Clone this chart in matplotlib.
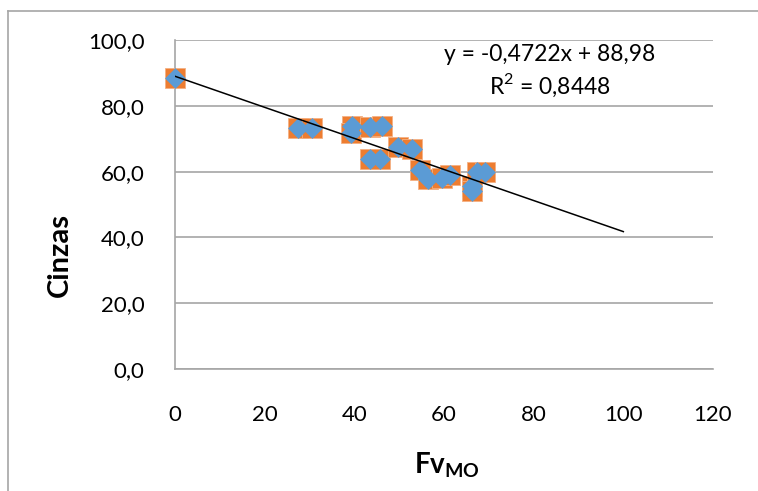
import matplotlib
matplotlib.use("Agg")
import matplotlib.pyplot as plt
from matplotlib.lines import Line2D
import numpy as np

# Fv_MO vs Cinzas measurements
fv_mo = [0.0, 27.5, 30.6, 39.5, 39.2, 43.5, 46.2, 43.5, 45.8, 49.8,
         52.9, 54.7, 56.5, 59.6, 61.4, 66.3, 66.3, 67.4, 69.2]
cinzas = [88.5, 73.3, 73.3, 74.0, 71.7, 73.5, 74.0, 63.8, 63.8, 67.5,
          67.0, 60.5, 57.8, 58.1, 59.0, 55.5, 54.2, 59.9, 59.9]

# Linear trendline coefficients
slope = -0.4722
intercept = 88.98
r_squared = 0.8448
trend_x = [0, 100]

x_ticks = [0, 20, 40, 60, 80, 100, 120]
y_ticks = [0, 20, 40, 60, 80, 100]

FONT = "Lato"
GRID = "#A6A6A6"
ORANGE = "#ED7D31"
BLUE = "#5B9BD5"

plt.rcParams["mathtext.fontset"] = "custom"
plt.rcParams["mathtext.rm"] = FONT
plt.rcParams["mathtext.bf"] = FONT + ":bold"

W, H = 758, 491
fig = plt.figure(figsize=(W / 100, H / 100), dpi=100)
ax = fig.add_axes([175 / W, 1 - 369 / H, (713 - 175) / W, (369 - 40) / H])

# chart frame (left and top edges)
fig.add_artist(Line2D([8 / W, 1.0], [1 - 11 / H, 1 - 11 / H], color=GRID,
                      lw=1.2, transform=fig.transFigure))
fig.add_artist(Line2D([8 / W, 8 / W], [1 - 11 / H, 0.0], color=GRID,
                      lw=1.2, transform=fig.transFigure))

ax.set_xlim(0, 120)
ax.set_ylim(0, 100)
ax.set_xticks(x_ticks)
ax.set_yticks(y_ticks)
ax.set_xticklabels([str(v) for v in x_ticks])
ax.set_yticklabels([f"{v:.1f}".replace(".", ",") for v in y_ticks])
ax.tick_params(length=0, labelsize=16, colors="black")
ax.tick_params(axis="y", pad=22)
ax.tick_params(axis="x", pad=26)
for lab in ax.get_xticklabels() + ax.get_yticklabels():
    lab.set_fontfamily(FONT)

ax.grid(axis="y", color=GRID, lw=1.2)
ax.set_axisbelow(True)
for side in ("top", "right"):
    ax.spines[side].set_visible(False)
for side in ("left", "bottom"):
    ax.spines[side].set_color(GRID)
    ax.spines[side].set_linewidth(1.2)

ax.plot(fv_mo, cinzas, linestyle="none", marker="s", markersize=14,
        markerfacecolor=ORANGE, markeredgecolor="#F4B183", markeredgewidth=0.6,
        zorder=3, clip_on=False)
ax.plot(fv_mo, cinzas, linestyle="none", marker="D", markersize=9.8,
        markerfacecolor=BLUE, markeredgecolor=BLUE, markeredgewidth=0.4,
        zorder=4, clip_on=False)

tx = np.array(trend_x, dtype=float)
ax.plot(tx, slope * tx + intercept, color="black", lw=1.1, zorder=5)

eq = (f"y = {slope:.4f}x + {intercept:.2f}".replace(".", ",")
      + "\n" + "R$^{2}$ = " + f"{r_squared:.4f}".replace(".", ","))
ax.text(0.697, 0.903, eq, transform=ax.transAxes, ha="center", va="center",
        fontsize=16.5, fontfamily=FONT, linespacing=1.3)

ax.set_xlabel(r"Fv$_{\mathbf{MO}}$", fontsize=20, fontweight="bold",
              fontfamily=FONT)
ax.xaxis.set_label_coords(0.5056, -0.292)
ax.xaxis.label.set_va("center")
ax.set_ylabel("Cinzas", fontsize=21, fontweight="bold", fontfamily=FONT)
ax.yaxis.set_label_coords(-0.214, 0.347)
ax.yaxis.label.set_va("center")

fig.savefig("out.png", dpi=100)
